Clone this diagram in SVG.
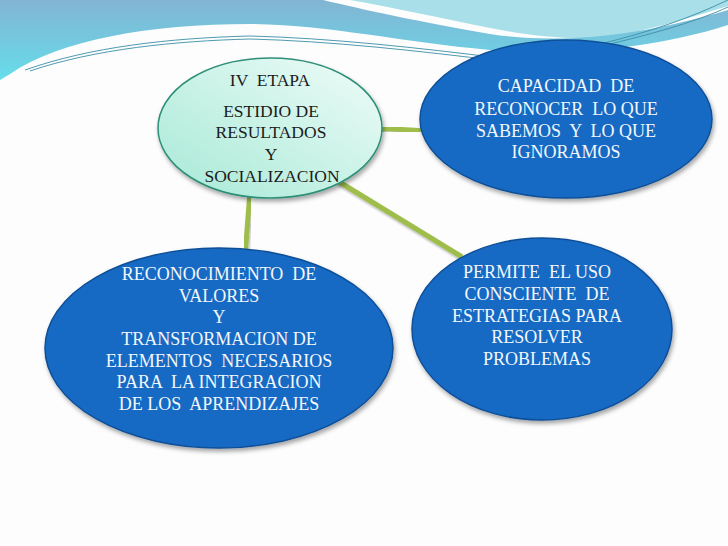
<svg xmlns="http://www.w3.org/2000/svg" width="728" height="546" viewBox="0 0 728 546">
  <defs>
    <linearGradient id="band" gradientUnits="userSpaceOnUse" x1="0" y1="0" x2="0" y2="78">
      <stop offset="0" stop-color="#82b4d3"/>
      <stop offset="1" stop-color="#66dcea"/>
    </linearGradient>
    <linearGradient id="mint" x1="0" y1="1" x2="1" y2="0">
      <stop offset="0" stop-color="#a6e9d6"/>
      <stop offset="1" stop-color="#effcf8"/>
    </linearGradient>
    <filter id="sh" x="-10%" y="-10%" width="125%" height="130%">
      <feDropShadow dx="1.5" dy="3" stdDeviation="2" flood-color="#000" flood-opacity="0.35"/>
    </filter>
    <filter id="lsh" x="-20%" y="-20%" width="140%" height="140%">
      <feDropShadow dx="1" dy="2" stdDeviation="1" flood-color="#000" flood-opacity="0.3"/>
    </filter>
  </defs>
  <style>
    .blue { fill: #176bc3; stroke: #0e4f98; stroke-width: 1.5; filter: url(#sh); }
    .mint { fill: url(#mint); stroke: #2f8f78; stroke-width: 1.5; filter: url(#sh); }
    text { white-space: pre; }
    .wt { font-family: "Liberation Serif", "Times New Roman", serif; font-size: 18px; fill: #f3f7fc; text-anchor: middle; }
    .dt { font-family: "Liberation Serif", "Times New Roman", serif; font-size: 17.5px; fill: #1c1c1c; text-anchor: middle; }
    .conn { stroke: #9fbd4c; stroke-width: 5; fill: none; filter: url(#lsh); }
    .thin { fill: none; stroke: #3a8fa6; stroke-width: 0.9; }
  </style>

  <!-- background -->
  <rect width="728" height="546" fill="#fdfdfd"/>
  <g id="decor">
    <path d="M350 0 H728 V6 C690 18 640 33 600 38 C560 40 520 34 490 28 C440 18 395 8 350 0 Z" fill="#a9dfe9"/>
    <path d="M0 0 H323 C365 10 420 22 490 34 C560 45 640 36 728 10 V25 C650 50 560 56 490 50 C400 42 330 25 250 24 C150 24 60 40 10 74 L0 80 Z" fill="url(#band)"/>
    <path d="M25 70 C90 47 170 38 250 36 C330 38 420 48 500 58" class="thin"/>
    <path d="M30 71 C95 49 175 41 250 39 C330 41 420 51 500 61" class="thin" stroke="#5aa8bb"/>
    <path d="M600 44 C650 32 690 18 728 0" class="thin"/>
    <path d="M610 44 C660 32 700 20 728 7" class="thin"/>
  </g>

  <!-- connectors -->
  <g id="connectors">
    <line class="conn" x1="375" y1="128" x2="428" y2="131"/>
    <line class="conn" x1="336" y1="180" x2="462" y2="257"/>
    <line class="conn" x1="250" y1="192" x2="245" y2="256"/>
  </g>

  <!-- nodes -->
  <g id="node-etapa">
    <ellipse class="mint" cx="270" cy="128" rx="112" ry="70"/>
    <text class="dt" x="270" y="86" xml:space="preserve">IV  ETAPA</text>
    <text class="dt" x="271" y="117">ESTIDIO DE</text>
    <text class="dt" x="271" y="138">RESULTADOS</text>
    <text class="dt" x="271" y="160">Y</text>
    <text class="dt" x="272" y="182">SOCIALIZACION</text>
  </g>

  <g id="node-capacidad">
    <ellipse class="blue" cx="566" cy="119" rx="146" ry="79"/>
    <text class="wt" x="566" y="92" xml:space="preserve">CAPACIDAD  DE</text>
    <text class="wt" x="566" y="115" xml:space="preserve">RECONOCER  LO QUE</text>
    <text class="wt" x="566" y="137" xml:space="preserve">SABEMOS  Y  LO QUE</text>
    <text class="wt" x="566" y="158">IGNORAMOS</text>
  </g>

  <g id="node-reconocimiento">
    <ellipse class="blue" cx="219" cy="348" rx="174" ry="100"/>
    <text class="wt" x="219" y="280" xml:space="preserve">RECONOCIMIENTO  DE</text>
    <text class="wt" x="219" y="302">VALORES</text>
    <text class="wt" x="219" y="323">Y</text>
    <text class="wt" x="219" y="345">TRANSFORMACION DE</text>
    <text class="wt" x="219" y="367" xml:space="preserve">ELEMENTOS  NECESARIOS</text>
    <text class="wt" x="219" y="388" xml:space="preserve">PARA  LA INTEGRACION</text>
    <text class="wt" x="219" y="410" xml:space="preserve">DE LOS  APRENDIZAJES</text>
  </g>

  <g id="node-permite">
    <ellipse class="blue" cx="542" cy="329" rx="130" ry="91"/>
    <text class="wt" x="537" y="278" xml:space="preserve">PERMITE  EL USO</text>
    <text class="wt" x="537" y="300" xml:space="preserve">CONSCIENTE  DE</text>
    <text class="wt" x="537" y="322">ESTRATEGIAS PARA</text>
    <text class="wt" x="537" y="343">RESOLVER</text>
    <text class="wt" x="537" y="365">PROBLEMAS</text>
  </g>
</svg>
